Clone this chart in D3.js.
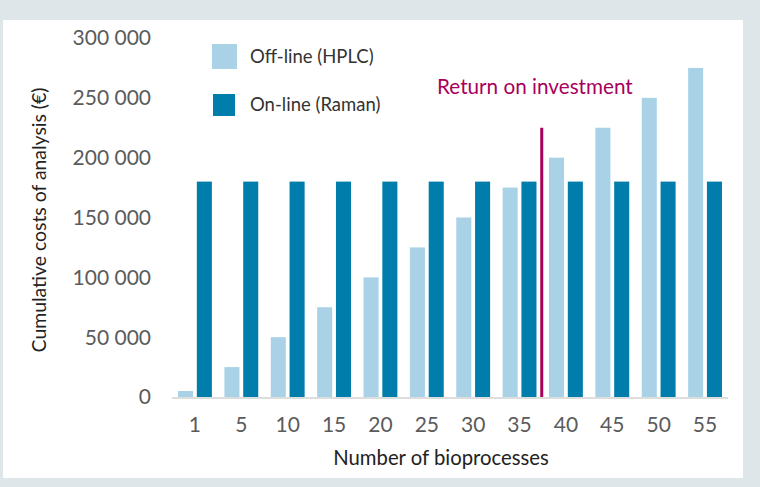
<!DOCTYPE html>
<html>
<head>
<meta charset="utf-8">
<script src="https://cdn.jsdelivr.net/npm/d3@7"></script>
<style>
  body { margin: 0; background: #dfe6ea; }
  svg { display: block; font-family: Lato, "Open Sans", sans-serif; }
</style>
</head>
<body>
<svg id="chart" width="760" height="487"></svg>
<script>
var categories = ["1", "5", "10", "15", "20", "25", "30", "35", "40", "45", "50", "55"];
var offline = [5000, 25000, 50000, 75000, 100000, 125000, 150000, 175000, 200000, 225000, 250000, 275000];
var online = [180000, 180000, 180000, 180000, 180000, 180000, 180000, 180000, 180000, 180000, 180000, 180000];
var yTicks = [0, 50000, 100000, 150000, 200000, 250000, 300000];
var seriesNames = ["Off-line (HPLC)", "On-line (Raman)"];
var roiAfter = "35";  // return on investment between 35 and 40
var roiTop = 225000;

var colors = ["#a9d2e7", "#007dab"];

var svg = d3.select("#chart");

// white panel
svg.append("rect")
  .attr("x", 3).attr("y", 20)
  .attr("width", 740).attr("height", 458)
  .attr("fill", "#fff");

var x = d3.scaleBand()
  .domain(categories)
  .range([172, 728])
  .paddingInner(0.27)
  .paddingOuter(0.13);

var xs = d3.scaleBand()
  .domain([0, 1])
  .range([0, x.bandwidth()])
  .paddingInner(0.2);

var y = d3.scaleLinear()
  .domain([0, 300000])
  .range([397, 38]);

var fmt = function(d) { return d3.format(",")(d).replace(/,/g, " "); };

// y tick labels
svg.append("g")
  .selectAll("text")
  .data(yTicks)
  .enter()
  .append("text")
  .attr("x", 151)
  .attr("y", function(d) { return y(d); })
  .attr("dy", "0.35em")
  .attr("text-anchor", "end")
  .attr("font-size", 21)
  .attr("fill", "#5b5b5b")
  .text(fmt);

// bars
var groups = svg.append("g")
  .selectAll("g")
  .data(categories)
  .enter()
  .append("g")
  .attr("transform", function(d) { return "translate(" + x(d) + ",0)"; });

groups.selectAll("rect")
  .data(function(d, i) { return [offline[i], online[i]]; })
  .enter()
  .append("rect")
  .attr("x", function(d, j) { return xs(j); })
  .attr("y", function(d) { return y(d); })
  .attr("width", xs.bandwidth())
  .attr("height", function(d) { return y(0) - y(d); })
  .attr("fill", function(d, j) { return colors[j]; });

// baseline
svg.append("line")
  .attr("x1", 172).attr("x2", 728)
  .attr("y1", y(0) + 1).attr("y2", y(0) + 1)
  .attr("stroke", "#ddd")
  .attr("stroke-width", 2);

// x tick labels
svg.append("g")
  .selectAll("text")
  .data(categories)
  .enter()
  .append("text")
  .attr("x", function(d) { return x(d) + x.bandwidth() / 2; })
  .attr("y", 432)
  .attr("text-anchor", "middle")
  .attr("font-size", 21)
  .attr("fill", "#5b5b5b")
  .text(function(d) { return d; });

// axis titles
svg.append("text")
  .attr("x", 441).attr("y", 465)
  .attr("text-anchor", "middle")
  .attr("font-size", 20.3)
  .attr("fill", "#222")
  .text("Number of bioprocesses");

svg.append("text")
  .attr("transform", "translate(46,220) rotate(-90)")
  .attr("text-anchor", "middle")
  .attr("font-size", 19.4)
  .attr("fill", "#222")
  .text("Cumulative costs of analysis (\u20ac)");

// return on investment marker
var roiX = x(roiAfter) + x.step() - (x.step() - x.bandwidth()) / 2 - 1;
svg.append("line")
  .attr("x1", roiX).attr("x2", roiX)
  .attr("y1", y(roiTop)).attr("y2", y(0))
  .attr("stroke", "#a8005c")
  .attr("stroke-width", 3);

svg.append("text")
  .attr("x", 437).attr("y", 94)
  .attr("font-size", 20.7)
  .attr("fill", "#a8005c")
  .text("Return on investment");

// legend
var legend = svg.append("g")
  .selectAll("g")
  .data(seriesNames)
  .enter()
  .append("g")
  .attr("transform", function(d, i) { return "translate(212," + (44 + i * 50) + ")"; });

legend.append("rect")
  .attr("x", function(d, i) { return i ? 1 : 0; })
  .attr("width", function(d, i) { return i ? 22 : 25; })
  .attr("height", function(d, i) { return i ? 22 : 25; })
  .attr("fill", function(d, i) { return colors[i]; });

legend.append("text")
  .attr("x", 38)
  .attr("y", function(d, i) { return i ? 11 : 12.5; })
  .attr("dy", "0.35em")
  .attr("font-size", 18.5)
  .attr("fill", "#333")
  .text(function(d) { return d; });
</script>
</body>
</html>
